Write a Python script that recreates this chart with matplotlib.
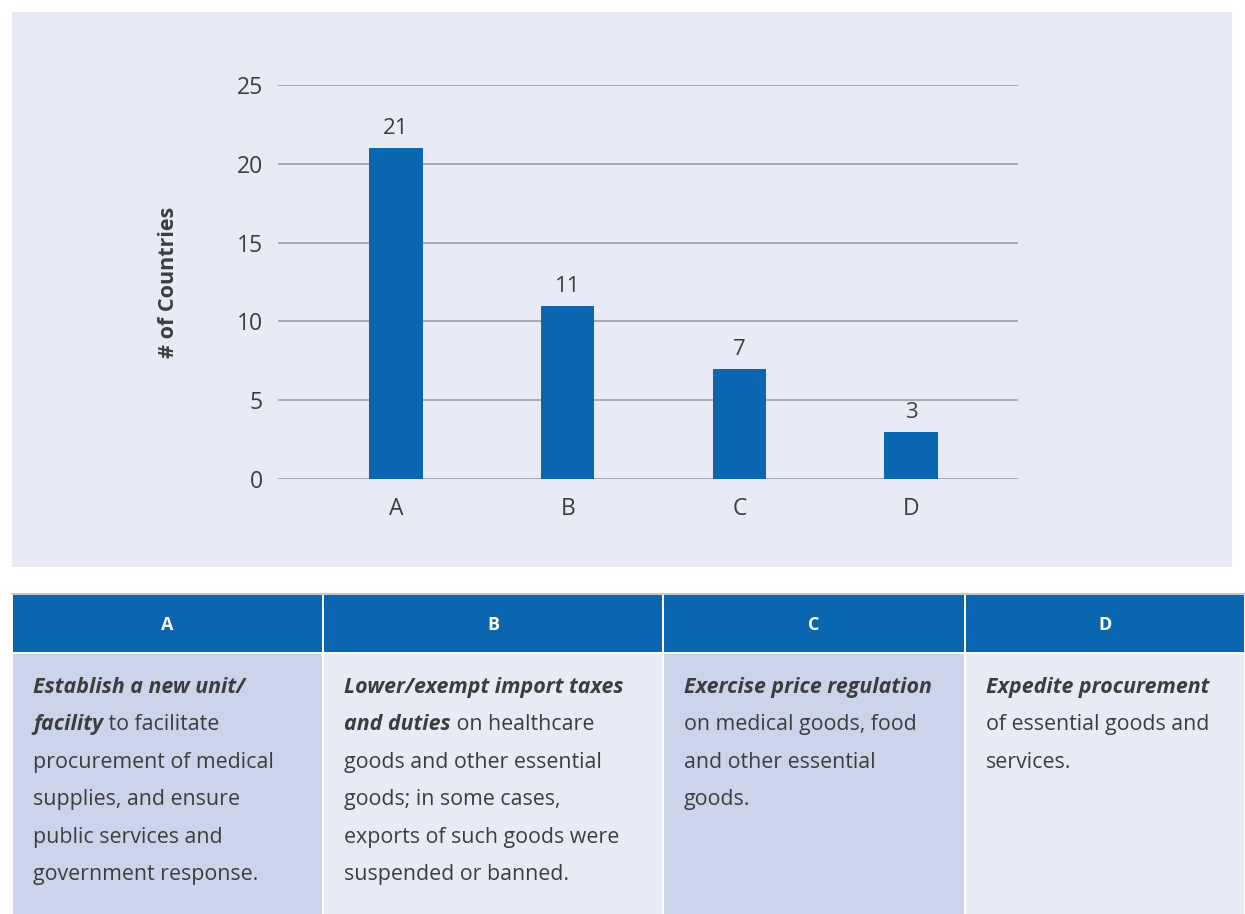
import matplotlib
matplotlib.use('Agg')
import matplotlib.pyplot as plt
from matplotlib.patches import Rectangle

plt.rcParams['font.family'] = ['Open Sans', 'DejaVu Sans']

categories = ['A', 'B', 'C', 'D']
countries = [21, 11, 7, 3]
y_ticks = [0, 5, 10, 15, 20, 25]

# each cell: list of lines, each line a list of (text, emphasised)
descriptions = [
    [[('Establish a new unit/', True)],
     [('facility', True), (' to facilitate', False)],
     [('procurement of medical', False)],
     [('supplies, and ensure', False)],
     [('public services and', False)],
     [('government response.', False)]],
    [[('Lower/exempt import taxes', True)],
     [('and duties', True), (' on healthcare', False)],
     [('goods and other essential', False)],
     [('goods; in some cases,', False)],
     [('exports of such goods were', False)],
     [('suspended or banned.', False)]],
    [[('Exercise price regulation', True)],
     [('on medical goods, food', False)],
     [('and other essential', False)],
     [('goods.', False)]],
    [[('Expedite procurement', True)],
     [('of essential goods and', False)],
     [('services.', False)]],
]

blue = '#0B66B1'
lavender = '#E8EBF6'
lavender_dark = '#CCD4EB'
text_col = '#3D3D3F'
grid_col = '#96969E'

W, H = 1245, 914
fig = plt.figure(figsize=(W / 100, H / 100), dpi=100)

# background layer in pixel units
bg = fig.add_axes([0, 0, 1, 1], zorder=0)
bg.set_xlim(0, W)
bg.set_ylim(H, 0)
bg.axis('off')
bg.add_patch(Rectangle((12, 12), 1220, 555, color=lavender, lw=0))

# table
col_edges = [12, 323, 663, 965, 1245]
bg.plot([12, 1245], [593.5, 593.5], color='#BDBDBD', lw=1.2)
for i, cat in enumerate(categories):
    x0, x1 = col_edges[i], col_edges[i + 1]
    bg.add_patch(Rectangle((x0 + 1, 595), x1 - x0 - 2, 57, color=blue, lw=0))
    fill = lavender_dark if i % 2 == 0 else lavender
    bg.add_patch(Rectangle((x0 + 1, 654), x1 - x0 - 2, H - 654, color=fill, lw=0))
    bg.text((x0 + x1) / 2, 625, cat, color='white', fontsize=13, fontweight='bold',
            ha='center', va='center')

renderer = fig.canvas.get_renderer()
for i, lines in enumerate(descriptions):
    for j, line in enumerate(lines):
        x = col_edges[i] + 21
        y = 693 + j * 37.4
        for s, emph in line:
            t = bg.text(x, y, s, color=text_col, fontsize=15.4, va='baseline', ha='left',
                        fontweight='bold' if emph else 'normal',
                        fontstyle='italic' if emph else 'normal')
            x += t.get_window_extent(renderer).width

# bar chart
ax = fig.add_axes([278 / W, 1 - 479 / H, 740 / W, 394 / H], zorder=1)
ax.patch.set_alpha(0)
pos = range(len(categories))
bars = ax.bar(pos, countries, width=0.31, color=blue, zorder=3)
for b, v in zip(bars, countries):
    ax.annotate(str(v), (b.get_x() + b.get_width() / 2, v), xytext=(0, 6.5),
                textcoords='offset points', ha='center', va='bottom',
                fontsize=16, color=text_col)

ax.set_xlim(-0.687, 3.623)
ax.set_ylim(0, 25)
ax.set_yticks(y_ticks)
ax.set_xticks(list(pos))
ax.set_xticklabels(categories)
ax.tick_params(length=0, labelsize=16.5, labelcolor=text_col)
ax.tick_params(axis='y', pad=11)
ax.tick_params(axis='x', pad=13)
for s in ax.spines.values():
    s.set_visible(False)
ax.grid(axis='y', color=grid_col, lw=1.1, zorder=0)
ax.set_ylabel('# of Countries', fontsize=15.5, fontweight='bold', color=text_col)
ax.yaxis.set_label_coords(-0.134, 0.5)

fig.savefig('out.png', dpi=100)
